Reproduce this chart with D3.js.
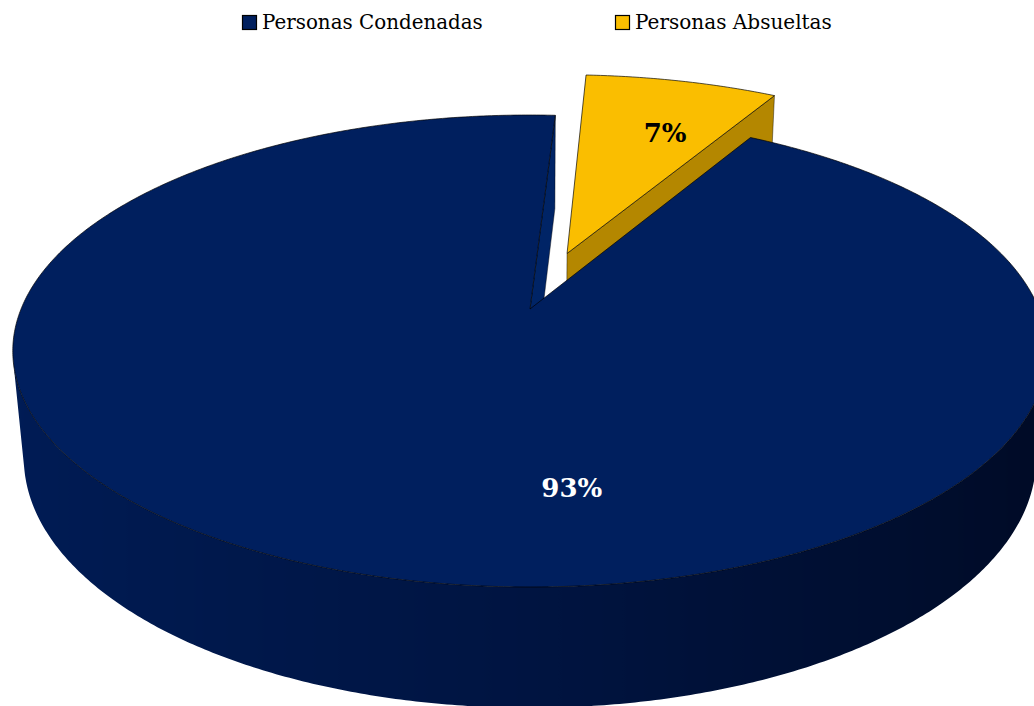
<!DOCTYPE html>
<html>
<head>
<meta charset="utf-8">
<script src="https://cdn.jsdelivr.net/npm/d3@7"></script>
<style>
  html, body { margin: 0; padding: 0; background: #fff; }
  svg { display: block; }
</style>
</head>
<body>
<svg id="chart" width="1034" height="706"></svg>
<script>
// ---- data ----
const categories = ["Personas Condenadas", "Personas Absueltas"];
const values = [92.6, 7.4];
const topColors = ["#001F5E", "#FABE00"];
const explodeBy = [0, 0.265];

// ---- layout / camera ----
const W = 1034, H = 706;
const CX = 530, CY = 309;
const F = 2555, DIST = 5.02;
const tilt = Math.asin(0.449);
const S = Math.sin(tilt), C = Math.cos(tilt);
const THICK = 0.237;
const firstAngle = 30 * Math.PI / 180;
const cam = [0, DIST * S, DIST * C];

function proj(p) {
  const [x, y, z] = p;
  const d = DIST - (y * S + z * C);
  const up = y * C - z * S;
  return [CX + F * x / d, CY - F * up / d];
}
function depth(p) { const [x, y, z] = p; return DIST - (y * S + z * C); }
const line = d3.line().x(d => d[0]).y(d => d[1]);
const closed = pts => line(pts) + "Z";

const svg = d3.select("#chart");
const defs = svg.append("defs");
const pieLayout = d3.pie().sort(null).startAngle(firstAngle).endAngle(firstAngle + 2 * Math.PI);
const arcs = pieLayout(values);
const total = d3.sum(values);
const pct = d3.format(".0%");

// side shading by outward direction (left light -> right dark)
const sideShade = d3.scaleLinear().domain([-1, 0, 1])
  .range(["#001C56", "#001441", "#000A24"]).interpolate(d3.interpolateRgb);
const sideYellow = d3.scaleLinear().domain([-1, 1]).range(["#C39300", "#8F6C00"]);
const radialShade = ["#002466", "#B48700"];

const slices = arcs.map((a, i) => {
  const am = (a.startAngle + a.endAngle) / 2;
  const e = explodeBy[i];
  const ox = e * Math.sin(am), oz = -e * Math.cos(am);
  const pt = (phi, y) => [ox + Math.sin(phi), y, oz - Math.cos(phi)];
  const n = Math.max(8, Math.ceil((a.endAngle - a.startAngle) / (Math.PI / 360)));
  const phis = d3.range(n + 1).map(k => a.startAngle + (a.endAngle - a.startAngle) * k / n);
  const centerTop = [ox, 0, oz], centerBot = [ox, -THICK, oz];
  return { a, i, am, ox, oz, pt, phis, centerTop, centerBot };
});

function visible(normal, p) {
  const v = [cam[0] - p[0], cam[1] - p[1], cam[2] - p[2]];
  return normal[0] * v[0] + normal[1] * v[1] + normal[2] * v[2] > 0;
}

// draw farthest slice first
slices.sort((A, B) => depth(B.centerTop) - depth(A.centerTop));

const g = svg.append("g");
slices.forEach(sl => {
  const { a, i, pt, phis, centerTop, centerBot } = sl;
  const gs = g.append("g").attr("class", "slice slice-" + i);
  // radial faces
  const faces = [
    { phi: a.startAngle, n: [-Math.cos(a.startAngle), 0, -Math.sin(a.startAngle)] },
    { phi: a.endAngle, n: [Math.cos(a.endAngle), 0, Math.sin(a.endAngle)] }
  ];
  faces.forEach(f => {
    if (!visible(f.n, centerTop)) return;
    const quad = [centerTop, pt(f.phi, 0), pt(f.phi, -THICK), centerBot].map(proj);
    gs.append("path").attr("d", closed(quad))
      .attr("fill", radialShade[i]).attr("stroke", "#000").attr("stroke-opacity", 0.6)
      .attr("stroke-width", 0.7).attr("stroke-linejoin", "round");
  });
  // outer curved side: contiguous runs of front-facing angles
  const runs = [];
  let cur = null;
  phis.forEach(p => {
    const vis = visible([Math.sin(p), 0, -Math.cos(p)], pt(p, 0));
    if (vis) { if (!cur) { cur = []; runs.push(cur); } cur.push(p); }
    else cur = null;
  });
  runs.forEach((run, r) => {
    if (run.length < 2) return;
    const topP = run.map(p => proj(pt(p, 0)));
    const botP = run.map(p => proj(pt(p, -THICK))).reverse();
    const xs = topP.map(d => d[0]).concat(botP.map(d => d[0]));
    const x1 = d3.min(xs), x2 = d3.max(xs);
    const gid = "side-" + i + "-" + r;
    const grad = defs.append("linearGradient").attr("id", gid)
      .attr("gradientUnits", "userSpaceOnUse")
      .attr("x1", x1).attr("x2", x2).attr("y1", 0).attr("y2", 0);
    const shade = i === 0 ? sideShade : sideYellow;
    const stops = run.map((p, k) => ({ off: (topP[k][0] - x1) / (x2 - x1), col: shade(Math.sin(p)) }))
      .sort((u, v) => u.off - v.off);
    grad.selectAll("stop").data(stops).join("stop")
      .attr("offset", d => Math.max(0, Math.min(1, d.off)))
      .attr("stop-color", d => d.col);
    gs.append("path").attr("d", closed(topP.concat(botP)))
      .attr("fill", "url(#" + gid + ")");
  });
  // top face
  const topPts = [centerTop].concat(phis.map(p => pt(p, 0))).map(proj);
  gs.append("path").attr("d", closed(topPts))
    .attr("fill", topColors[i]).attr("stroke", "#000").attr("stroke-opacity", 0.75)
    .attr("stroke-width", 0.9).attr("stroke-linejoin", "round");
});

// data labels
const labelAt = [{ ang: 174, r: 0.69 }, { ang: 19.8, r: 0.684 }];
slices.forEach(sl => {
  const L = labelAt[sl.i];
  const phi = L.ang * Math.PI / 180;
  const p = proj([sl.ox + L.r * Math.sin(phi), 0, sl.oz - L.r * Math.cos(phi)]);
  svg.append("text")
    .attr("x", p[0]).attr("y", p[1]).attr("dy", "0.37em")
    .attr("text-anchor", "middle")
    .attr("font-family", "'DejaVu Serif', serif")
    .attr("font-weight", "bold").attr("font-size", 26)
    .attr("fill", sl.i === 0 ? "#FFFFFF" : "#000000")
    .text(pct(values[sl.i] / total));
});

// legend
const legendX = [242, 615];
const legendTextW = [221, 197];
const lg = svg.append("g").attr("class", "legend");
categories.forEach((name, i) => {
  const item = lg.append("g");
  item.append("rect").attr("x", legendX[i] + 0.5).attr("y", 15.5).attr("width", 14).attr("height", 14)
    .attr("fill", topColors[i]).attr("stroke", "#000").attr("stroke-width", 1.2);
  const t = item.append("text").attr("x", legendX[i] + 20).attr("y", 29)
    .attr("font-family", "'DejaVu Serif', serif").attr("font-size", 20)
    .attr("fill", "#000").text(name);
  const w = t.node().getComputedTextLength();
  t.attr("font-size", 20 * legendTextW[i] / w);
});
</script>
</body>
</html>
